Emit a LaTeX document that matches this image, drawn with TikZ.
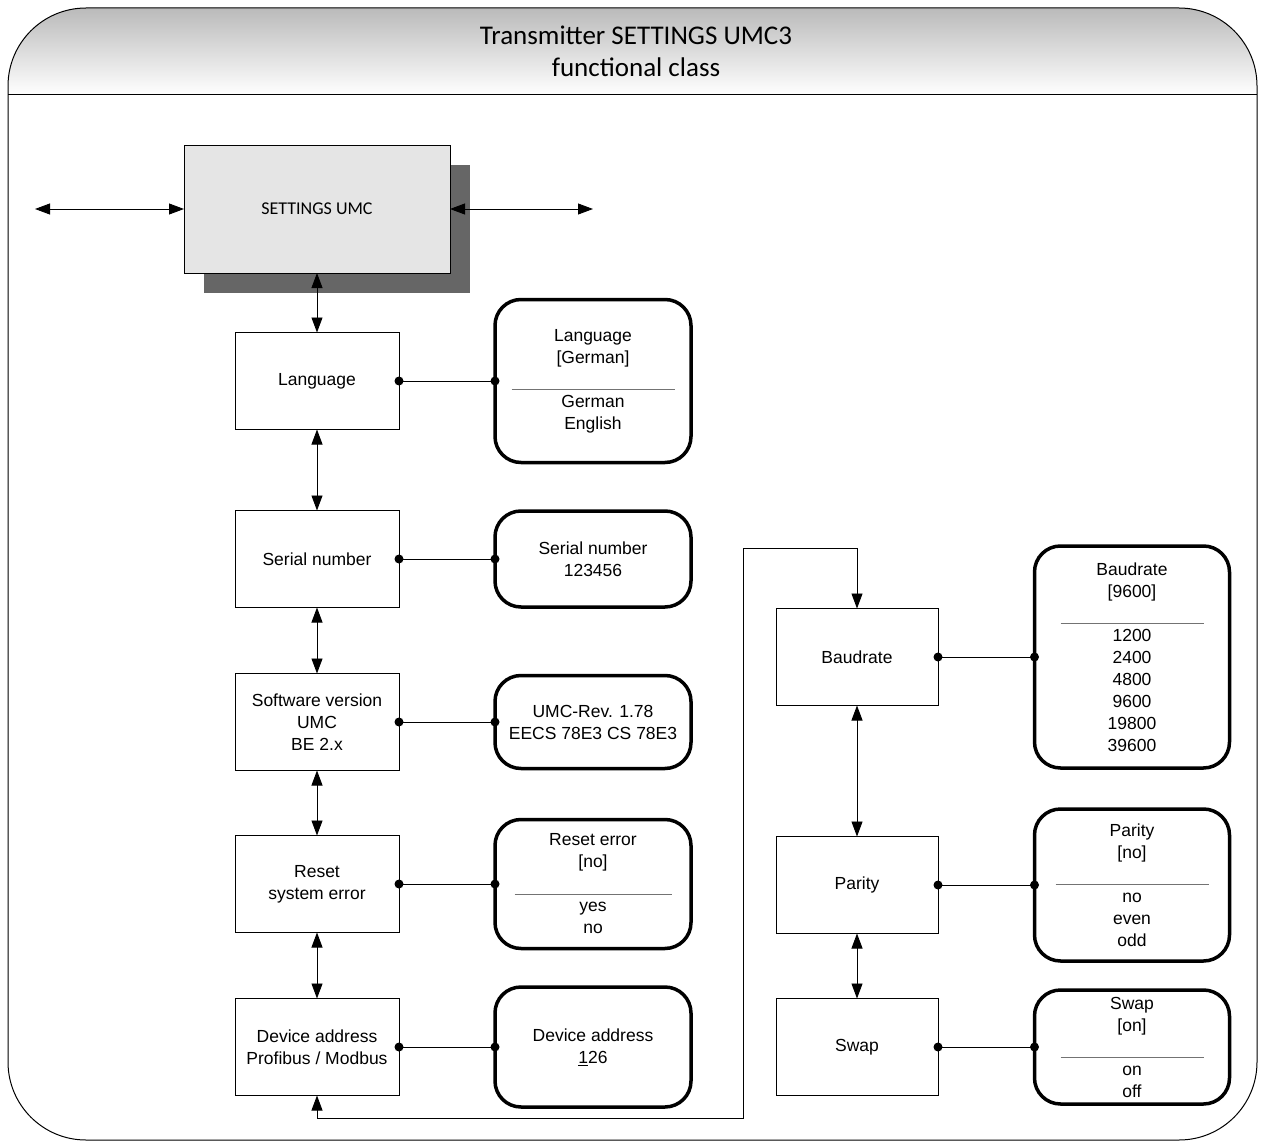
\documentclass[tikz,border=0pt]{standalone}
\usepackage{fontspec}
\setmainfont{Liberation Sans}
\newfontfamily\calibri{Carlito}
\usetikzlibrary{arrows.meta,positioning,calc}
\newcommand{\sepline}[1]{\textcolor{black!55}{\rule[-5pt]{#1}{0.8pt}}}

\begin{document}
\begin{tikzpicture}[x=1pt,y=-1pt,
  every node/.style={font=\fontsize{17.5}{22}\selectfont,outer sep=0pt},
  menubox/.style={draw,line width=0.8pt,minimum width=164pt,minimum height=97pt,align=center,inner sep=3pt},
  optbox/.style={draw,line width=3.5pt,rounded corners=26pt,minimum width=196pt,align=center,inner sep=3pt},
  link/.style={line width=0.9pt},
  dbl/.style={line width=0.9pt,{Triangle[length=15pt,width=11pt]}-{Triangle[length=15pt,width=11pt]}}]
\useasboundingbox (0,0) rectangle (1264,1142);
% frame and header
\begin{scope}
\clip[rounded corners=78pt] (8,8) rectangle (1257,1140);
\shade[top color=black!27,bottom color=white] (8,8) rectangle (1257,95);
\end{scope}
\draw[line width=1pt,rounded corners=78pt] (8,8) rectangle (1257,1140);
\draw[line width=1pt] (8,95) -- (1257,95);
\node[font=\calibri\fontsize{27}{32}\selectfont,align=center] (title) at (636,51) {Transmitter SETTINGS UMC3\\functional class};
% top block
\node[fill=black!60,minimum width=266pt,minimum height=128pt] (shadow) at (337,229) {};
\node[draw,line width=0.8pt,fill=black!10,minimum width=266pt,minimum height=128pt,font=\calibri\fontsize{18}{22}\selectfont] (settings) at (317,209) {SETTINGS UMC};
\coordinate (inleft) at (35,209); \coordinate (outright) at (593,209);
\draw[dbl] (inleft) -- (settings.west);
\draw[dbl] (settings.east) -- (outright);
% left column
\node[menubox] (lang) at (317,381) {Language};
\node[menubox] (serial) at (317,559) {Serial number};
\node[menubox] (soft) at (317,722) {Software version\\UMC\\BE 2.x};
\node[menubox] (reset) at (317,884) {Reset\\system error};
\node[menubox] (addr) at (317,1047) {Device address\\Profibus / Modbus};
\node[optbox,minimum height=163pt] (langopt) at (593,381) {Language\\{}[German]\\\sepline{163pt}\\German\\English};
\node[optbox,minimum height=96pt] (serialopt) at (593,559) {Serial number\\123456};
\node[optbox,minimum height=93pt] (softopt) at (593,722) {UMC-Rev. 1.78\\EECS 78E3 CS 78E3};
\node[optbox,minimum height=129pt] (resetopt) at (593,884) {Reset error\\{}[no]\\\sepline{157pt}\\yes\\no};
\node[optbox,minimum height=120pt] (addropt) at (593,1047) {Device address\\\underline{1}26};
% right column
\node[menubox,minimum width=162pt] (baud) at (857,657) {Baudrate};
\node[menubox,minimum width=162pt] (parity) at (857,885) {Parity};
\node[menubox,minimum width=162pt] (swap) at (857,1047) {Swap};
\node[optbox,minimum width=195pt,minimum height=222pt] (baudopt) at (1132,657) {Baudrate\\{}[9600]\\\sepline{143pt}\\1200\\2400\\4800\\9600\\19800\\39600};
\node[optbox,minimum width=195pt,minimum height=152pt] (parityopt) at (1132,885) {Parity\\{}[no]\\\sepline{153pt}\\no\\even\\odd};
\node[optbox,minimum width=195pt,minimum height=114pt] (swapopt) at (1132,1047) {Swap\\{}[on]\\\sepline{143pt}\\on\\off};
% menu links
\draw[dbl] (settings.south) -- (lang.north);
\draw[dbl] (lang.south) -- (serial.north);
\draw[dbl] (serial.south) -- (soft.north);
\draw[dbl] (soft.south) -- (reset.north);
\draw[dbl] (reset.south) -- (addr.north);
\draw[dbl] (baud.south) -- (parity.north);
\draw[dbl] (parity.south) -- (swap.north);
\coordinate (loopa) at (743,1118); \coordinate (loopb) at (857,548);
\draw[dbl] (addr.south) |- (loopa) |- (loopb) -- (baud.north);
% value links
\foreach \m/\o in {lang/langopt,serial/serialopt,soft/softopt,reset/resetopt,addr/addropt,baud/baudopt,parity/parityopt,swap/swapopt}{
  \draw[link] (\m.east) -- (\o.west);
  \fill (\m.east) circle (4.5pt); \fill (\o.west) circle (4.5pt);
}
\end{tikzpicture}
\end{document}
